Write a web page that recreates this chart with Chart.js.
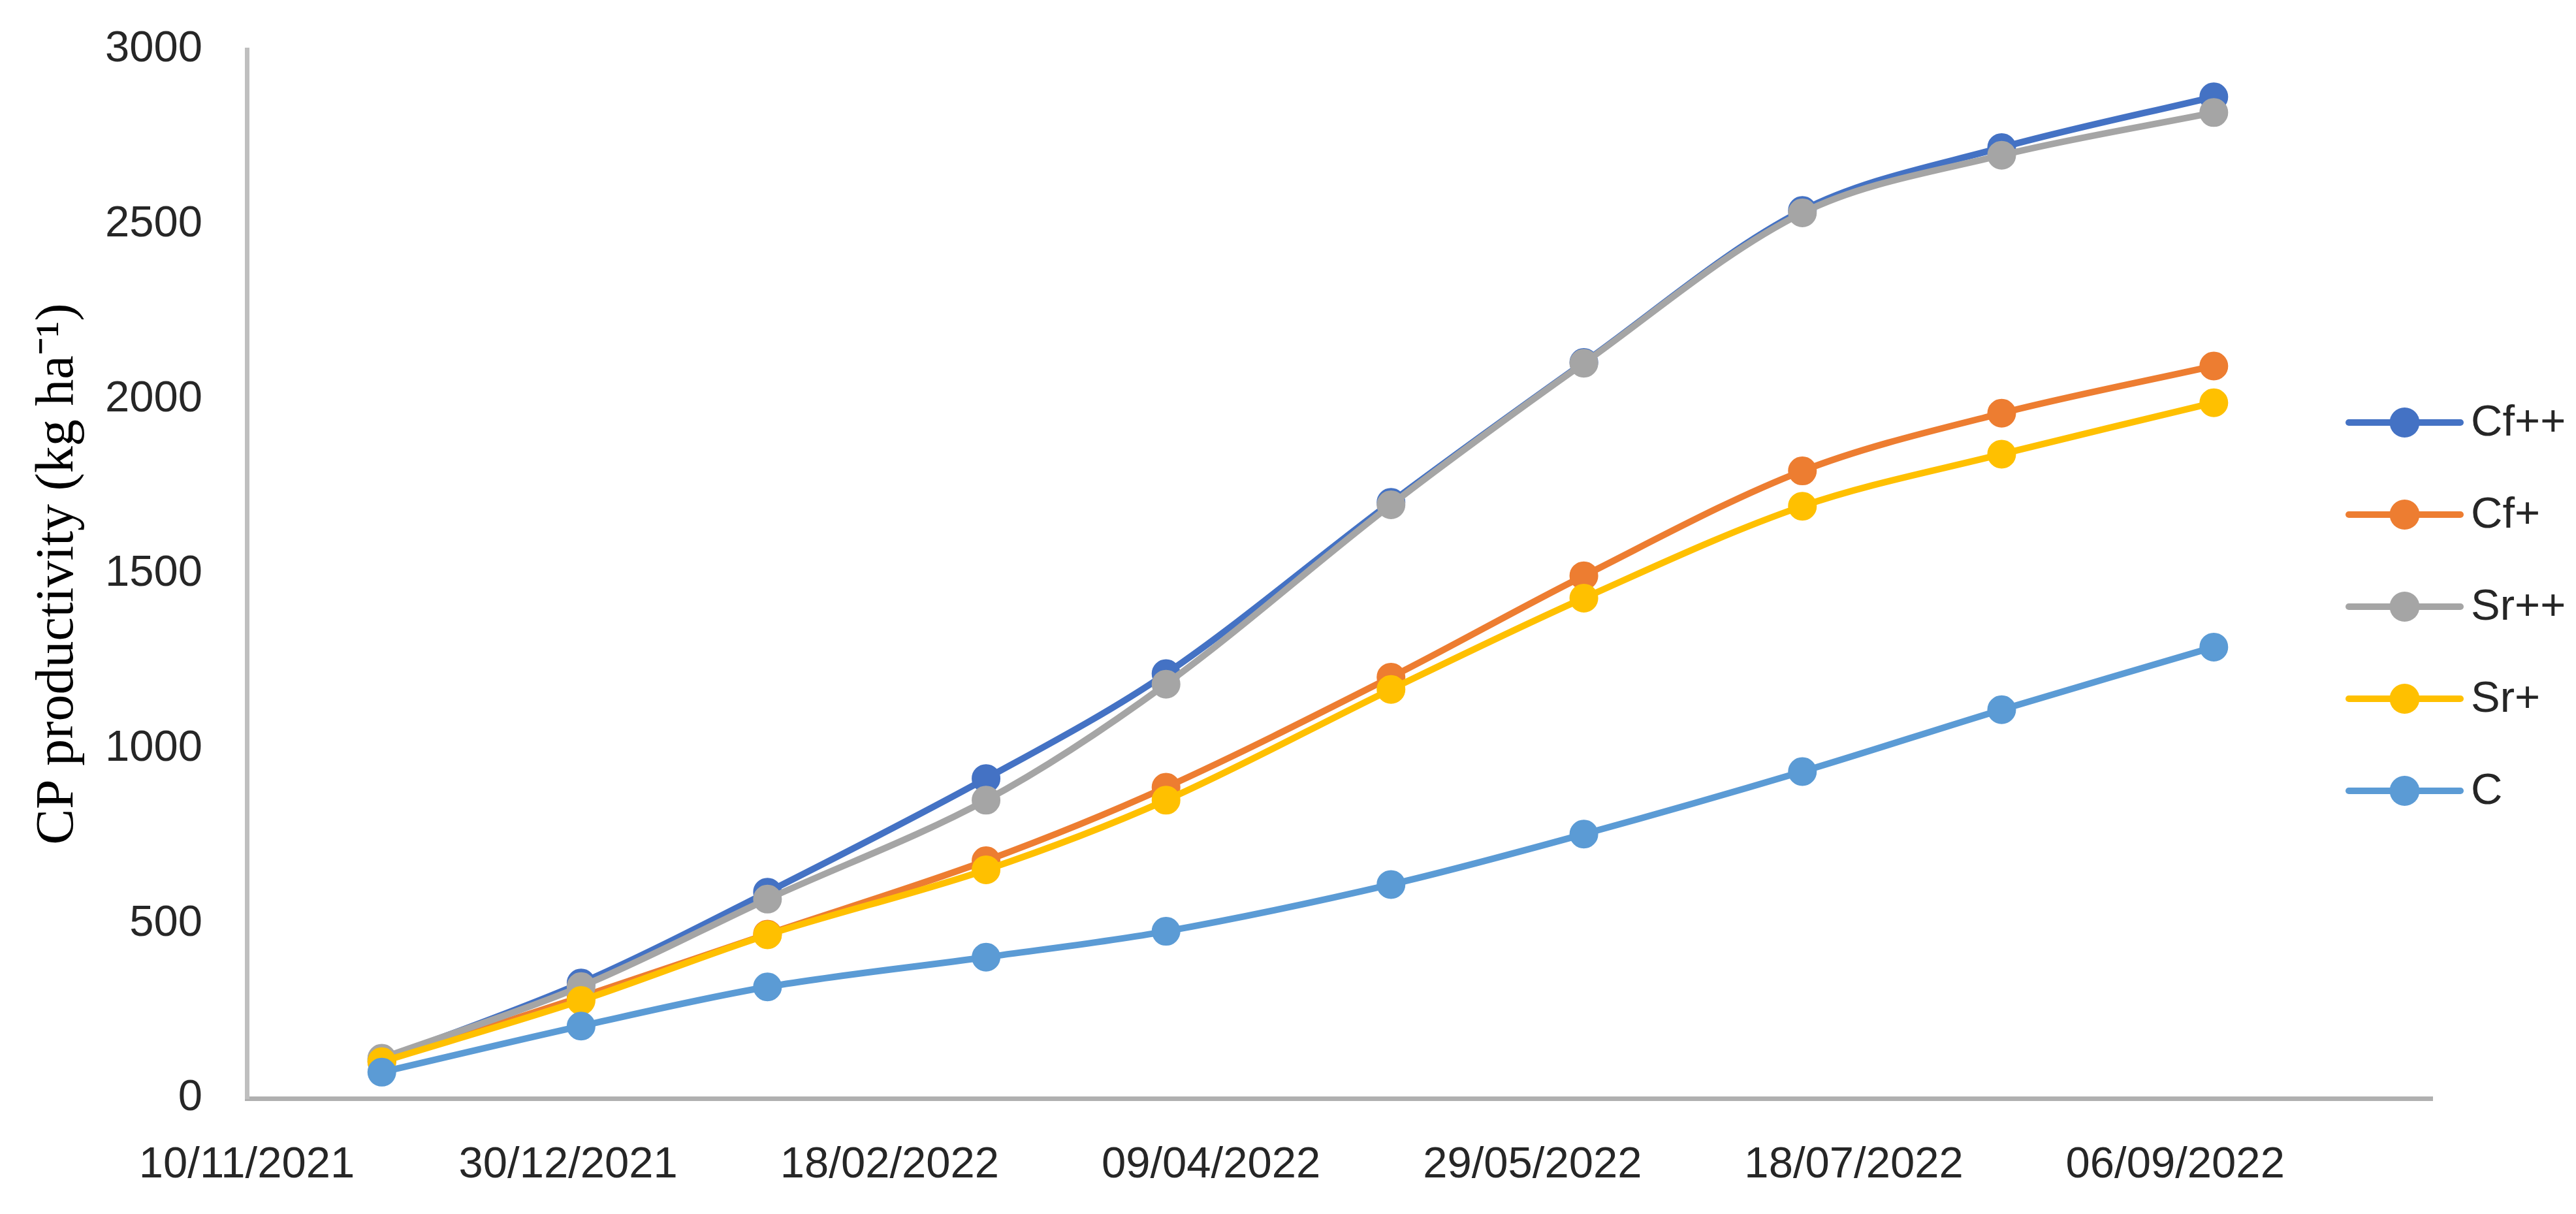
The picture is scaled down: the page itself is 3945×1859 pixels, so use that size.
<!DOCTYPE html>
<html>
<head>
<meta charset="utf-8">
<title>CP productivity</title>
<script src="https://cdn.jsdelivr.net/npm/chart.js@4/dist/chart.umd.min.js"></script>
<style>
  html, body { margin: 0; padding: 0; background: #fff; }
  canvas { display: block; }
</style>
</head>
<body>
<canvas id="grafico" width="3945" height="1859"></canvas>
<script>
// sampling dates (dd/mm/yyyy)
const dates = ['01/12/2021', '01/01/2022', '30/01/2022', '05/03/2022', '02/04/2022',
               '07/05/2022', '06/06/2022', '10/07/2022', '10/08/2022', '12/09/2022'];

const seriesNames = ['Cf++', 'Cf+', 'Sr++', 'Sr+', 'C'];

const cfPlusPlus = [110, 330, 590, 915, 1215, 1705, 2105, 2540, 2720, 2865];
const cfPlus     = [105, 290, 470, 680, 890, 1205, 1495, 1795, 1960, 2095];
const srPlusPlus = [115, 320, 570, 853, 1185, 1698, 2103, 2533, 2698, 2820];
const srPlus     = [105, 280, 468, 654, 853, 1170, 1431, 1694, 1843, 1990];
const control    = [75, 207, 319, 404, 478, 612, 756, 935, 1112, 1291];

// x axis tick labels and ends, y axis ticks
const xTickLabels = ['10/11/2021', '30/12/2021', '18/02/2022', '09/04/2022',
                     '29/05/2022', '18/07/2022', '06/09/2022'];
const xAxisEnd = '16/10/2022';
const yTicks = [0, 500, 1000, 1500, 2000, 2500, 3000];

const colors = ['#4472C4', '#ED7D31', '#A5A5A5', '#FFC000', '#5B9BD5'];

function toDay(s) {
    const [d, m, y] = s.split('/').map(Number);
    return Date.UTC(y, m - 1, d) / 86400000;
}
function fromDay(n) {
    const dt = new Date(n * 86400000);
    const p = (v) => String(v).padStart(2, '0');
    return p(dt.getUTCDate()) + '/' + p(dt.getUTCMonth() + 1) + '/' + dt.getUTCFullYear();
}

const allSeries = [cfPlusPlus, cfPlus, srPlusPlus, srPlus, control];
const xDays = dates.map(toDay);

const datasets = allSeries.map((vals, i) => ({
    label: seriesNames[i],
    data: vals.map((v, j) => ({ x: xDays[j], y: v })),
    borderColor: colors[i],
    backgroundColor: colors[i],
    pointBackgroundColor: colors[i],
    pointBorderColor: colors[i],
    borderWidth: 10,
    pointRadius: 21,
    pointBorderWidth: 2,
    tension: 0.33,
    // Excel paints later series on top
    order: allSeries.length - i
}));

const tickFont = { family: "'Liberation Sans', Arial, sans-serif", size: 67 };

// legend: line + marker + label, on the right
const lineLegend = {
    id: 'lineLegend',
    afterDraw(chart, args, opts) {
        const ctx = chart.ctx;
        ctx.save();
        chart.data.datasets.forEach((ds, i) => {
            const y = opts.top + i * opts.rowGap;
            ctx.strokeStyle = ds.borderColor;
            ctx.lineWidth = ds.borderWidth;
            ctx.lineCap = 'round';
            ctx.beginPath();
            ctx.moveTo(opts.left, y);
            ctx.lineTo(opts.left + opts.lineLength, y);
            ctx.stroke();
            ctx.fillStyle = ds.borderColor;
            ctx.beginPath();
            ctx.arc(opts.left + opts.lineLength / 2, y, opts.markerRadius, 0, Math.PI * 2);
            ctx.fill();
            ctx.fillStyle = opts.color;
            ctx.font = opts.font;
            ctx.textBaseline = 'middle';
            ctx.fillText(ds.label, opts.left + opts.lineLength + opts.gap, y + 2);
        });
        ctx.restore();
    }
};

new Chart(document.getElementById('grafico').getContext('2d'), {
    type: 'line',
    data: { datasets: datasets },
    plugins: [lineLegend],
    options: {
        responsive: false,
        animation: false,
        devicePixelRatio: 1,
        layout: { padding: { top: 76, right: 220, bottom: 0, left: 0 } },
        plugins: {
            legend: { display: false },
            tooltip: { enabled: false },
            lineLegend: {
                left: 3597, top: 647, rowGap: 141, lineLength: 171, gap: 16,
                markerRadius: 23, color: '#262626',
                font: "67px 'Liberation Sans', Arial, sans-serif"
            }
        },
        scales: {
            x: {
                type: 'linear',
                min: toDay(xTickLabels[0]),
                max: toDay(xAxisEnd),
                afterBuildTicks: (scale) => {
                    scale.ticks = xTickLabels.map((t) => ({ value: toDay(t) }));
                },
                afterFit: (scale) => { scale.height = 177; },
                ticks: {
                    callback: (v) => fromDay(v),
                    font: tickFont,
                    color: '#262626',
                    padding: 62,
                    maxRotation: 0,
                    autoSkip: false
                },
                grid: { display: false, drawTicks: false },
                border: { display: true, color: '#B0B0B0', width: 7 }
            },
            y: {
                min: 0,
                max: 3000,
                afterBuildTicks: (scale) => {
                    scale.ticks = yTicks.map((v) => ({ value: v }));
                },
                afterFit: (scale) => {
                    scale.width = 378;
                    scale.paddingTop = 0;
                    scale.paddingBottom = 0;
                },
                ticks: {
                    callback: (v) => String(v),
                    font: tickFont,
                    color: '#262626',
                    padding: 68
                },
                grid: { display: false, drawTicks: false },
                border: { display: true, color: '#BFBFBF', width: 7 },
                title: {
                    display: true,
                    text: 'CP productivity (kg ha⁻¹)',
                    font: { family: "'Liberation Serif', 'Times New Roman', serif", size: 82 },
                    color: '#000',
                    padding: { top: 40, bottom: 0 }
                }
            }
        }
    }
});
</script>
</body>
</html>
